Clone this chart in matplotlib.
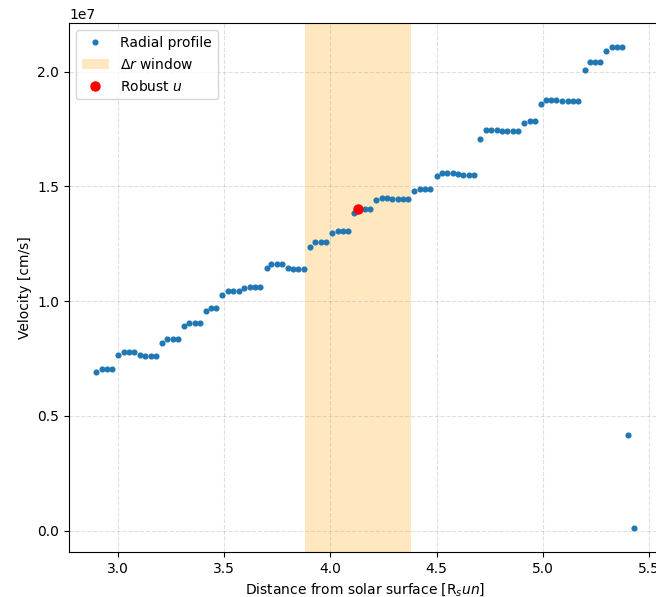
import numpy as np
import matplotlib.pyplot as plt

# radial profile samples: distance [R_sun] and velocity [cm/s]
r_profile = [
    2.897, 2.924, 2.949, 2.974, 3.001, 3.027, 3.053, 3.078, 3.104, 3.129,
    3.154, 3.180, 3.208, 3.233, 3.258, 3.283, 3.310, 3.336, 3.361, 3.387,
    3.413, 3.438, 3.463, 3.492, 3.518, 3.543, 3.568, 3.595, 3.620, 3.645,
    3.670, 3.700, 3.723, 3.749, 3.774, 3.801, 3.825, 3.850, 3.876, 3.905,
    3.930, 3.956, 3.981, 4.008, 4.034, 4.059, 4.084, 4.111, 4.136, 4.163,
    4.188, 4.216, 4.241, 4.266, 4.291, 4.316, 4.341, 4.366, 4.395, 4.420,
    4.445, 4.470, 4.500, 4.525, 4.550, 4.575, 4.600, 4.625, 4.650, 4.675,
    4.704, 4.732, 4.757, 4.782, 4.809, 4.833, 4.859, 4.884, 4.912, 4.937,
    4.962, 4.989, 5.014, 5.039, 5.064, 5.091, 5.116, 5.141, 5.166, 5.196,
    5.221, 5.246, 5.271, 5.298, 5.325, 5.349, 5.374, 5.401, 5.429,
]
v_profile = [
    0.693, 0.705, 0.705, 0.705, 0.766, 0.780, 0.780, 0.780, 0.766, 0.760,
    0.760, 0.760, 0.819, 0.835, 0.835, 0.835, 0.892, 0.905, 0.905, 0.905,
    0.957, 0.969, 0.969, 1.028, 1.043, 1.043, 1.043, 1.058, 1.062, 1.062,
    1.062, 1.143, 1.162, 1.162, 1.162, 1.143, 1.139, 1.139, 1.139, 1.235,
    1.258, 1.258, 1.258, 1.296, 1.306, 1.306, 1.306, 1.383, 1.403, 1.403,
    1.403, 1.440, 1.450, 1.450, 1.447, 1.445, 1.445, 1.445, 1.481, 1.490,
    1.490, 1.490, 1.546, 1.557, 1.557, 1.557, 1.553, 1.551, 1.551, 1.551,
    1.708, 1.747, 1.747, 1.747, 1.742, 1.740, 1.740, 1.740, 1.776, 1.785,
    1.785, 1.859, 1.878, 1.878, 1.878, 1.872, 1.871, 1.871, 1.871, 2.007,
    2.041, 2.041, 2.041, 2.092, 2.106, 2.106, 2.106, 0.417, 0.010,
]

r_center = 4.13      # centre of the averaging window
dr = 0.5             # window width
u_robust = 1.403     # robust velocity estimate in the window

r = np.array(r_profile)
v = np.array(v_profile) * 1e7

fig = plt.figure(figsize=(6.56, 5.97), dpi=100)
ax = fig.add_axes([0.1052, 0.0749, 0.9024, 0.886])

ax.plot(r, v, 'o', ms=3.4, color='tab:blue', label='Radial profile')
ax.axvspan(r_center - dr / 2, r_center + dr / 2, color='orange', alpha=0.25,
           lw=0, label=r'$\Delta r$ window')
ax.plot([r_center], [u_robust * 1e7], 'o', ms=6.5, color='red', label='Robust $u$')

ax.set_xlabel('Distance from solar surface [R$_sun$]')
ax.set_ylabel('Velocity [cm/s]')
ax.grid(True, linestyle='--', alpha=0.4)
ax.legend(loc='upper left')

plt.savefig('out.png', dpi=100)
